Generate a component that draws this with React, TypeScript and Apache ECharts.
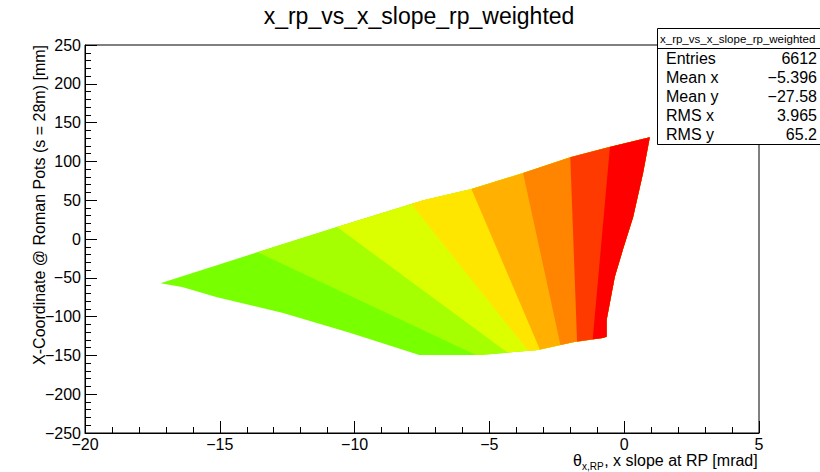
import React, { useEffect, useRef } from "react";
import * as echarts from "echarts";

// ---- data ----
// outline of the filled region (clockwise: tip -> top edge -> right edge -> bottom edge)
const outlineX = [-17.2, -14.5, -10.65, -7.45, -5.7, -3.75, -2.0, -0.55, 0.95, 0.7, 0.33, -0.05, -0.35, -0.65, -0.65, -0.8, -1.9, -3.2, -5.35, -7.6, -10.15, -12.65, -15.1, -16.4];
const outlineY = [-57, -27, 15.5, 50, 64, 85, 105.5, 118.5, 131, 85, 28, -14, -49, -104, -126, -127.5, -133, -143, -149.5, -149.5, -121, -95.5, -75, -62];

// boundaries between the colour bands (top end, bottom end)
const boundaryTopX = [-13.6, -10.65, -7.9, -5.65, -3.75, -2.0, -0.53];
const boundaryTopY = [-17, 15.5, 45, 63, 85, 105.7, 118.6];
const boundaryBottomX = [-5.5, -4.27, -3.53, -3.12, -2.38, -1.75, -1.16];
const boundaryBottomY = [-149.5, -148, -145.6, -143, -134, -130, -126];

const bandColors = ["#78ff00", "#a6ff00", "#dcff00", "#ffe600", "#ffb000", "#ff8400", "#ff3a00", "#ff0000"];

const statsTitle = "x_rp_vs_x_slope_rp_weighted";
const statLabels = ["Entries", "Mean x", "Mean y", "RMS x", "RMS y"];
const statValues = ["6612", "\u22125.396", "\u221227.58", "3.965", "65.2"];

const FONT = '"Liberation Sans", Arial, Helvetica, sans-serif';

type P = [number, number];

function clipRight(poly: P[], a: P, b: P): P[] {
  const dx = b[0] - a[0];
  const dy = b[1] - a[1];
  const side = (p: P) => dx * (p[1] - a[1]) - dy * (p[0] - a[0]);
  const out: P[] = [];
  const n = poly.length;
  for (let i = 0; i < n; i++) {
    const cur = poly[i];
    const prev = poly[(i + n - 1) % n];
    const sc = side(cur);
    const sp = side(prev);
    const inter = (): P => {
      const t = sp / (sp - sc);
      return [prev[0] + t * (cur[0] - prev[0]), prev[1] + t * (cur[1] - prev[1])];
    };
    if (sc >= 0) {
      if (sp < 0) out.push(inter());
      out.push(cur);
    } else if (sp >= 0) {
      out.push(inter());
    }
  }
  return out;
}

const outline: P[] = outlineX.map((x, i) => [x, outlineY[i]] as P);
const bandPolys: P[][] = [
  outline,
  ...boundaryTopX.map((_, i) =>
    clipRight(outline, [boundaryTopX[i], boundaryTopY[i]], [boundaryBottomX[i], boundaryBottomY[i]])
  ),
];

const minus = (v: number) => String(v).replace("-", "\u2212");

function measure(text: string, size: number) {
  const c = document.createElement("canvas").getContext("2d");
  if (!c) return text.length * size * 0.5;
  c.font = `${size}px ${FONT}`;
  return c.measureText(text).width;
}

export default function App() {
  const ref = useRef<HTMLDivElement>(null);
  useEffect(() => {
    document.body.style.margin = "0";
    const chart = echarts.init(ref.current!, null, { renderer: "svg" });

    const mainTxt = ", x slope at RP [mrad]";
    const subTxt = "x,RP";
    const mainW = measure(mainTxt, 16);
    const subW = measure(subTxt, 10);
    const thW = measure("\u03b8", 16);
    const mainX = 758 - mainW;
    const subX = mainX - subW - 0.5;
    const thX = subX - thW;

    const axisCommon = {
      type: "value" as const,
      axisLine: { show: true, onZero: false, lineStyle: { color: "#000", width: 1 } },
      axisTick: { show: true, inside: true, length: 12, lineStyle: { color: "#000" } },
      minorTick: { show: true, splitNumber: 5, length: 6, lineStyle: { color: "#000" } },
      splitLine: { show: false },
      axisLabel: { fontSize: 16, color: "#000", fontFamily: FONT, formatter: minus },
    };

    const option: any = {
      animation: false,
      backgroundColor: "#fff",
      grid: {
        left: 85, right: 61, top: 45, bottom: 39,
        show: true, borderColor: "#000", borderWidth: 1, backgroundColor: "transparent",
        containLabel: false, outerBoundsMode: "none",
      },
      xAxis: {
        ...axisCommon, min: -20, max: 5, interval: 5,
        axisLabel: { ...axisCommon.axisLabel, margin: 3 },
      },
      yAxis: {
        ...axisCommon, min: -250, max: 250, interval: 50,
        axisLabel: { ...axisCommon.axisLabel, margin: 4 },
      },
      series: [
        {
          type: "custom",
          coordinateSystem: "cartesian2d",
          data: bandPolys.map((p) => [p[0][0], p[0][1]]),
          renderItem: (params: any, api: any) => {
            const poly = bandPolys[params.dataIndex];
            const points = poly.map((p) => api.coord(p));
            return {
              type: "polygon",
              shape: { points },
              style: { fill: bandColors[params.dataIndex], stroke: null },
            };
          },
        },
      ],
      graphic: [
        {
          type: "text", x: 419, y: 16, z: 100,
          style: { text: "x_rp_vs_x_slope_rp_weighted", fontSize: 23, fontFamily: FONT, fill: "#000", align: "center", verticalAlign: "middle", textAlign: "center", textVerticalAlign: "middle" },
        },
        {
          type: "text", x: 39, y: 45, rotation: Math.PI / 2, z: 100,
          style: { text: "X-Coordinate @ Roman Pots (s = 28m) [mm]", fontSize: 16, fontFamily: FONT, fill: "#000", align: "right", verticalAlign: "middle", textAlign: "right", textVerticalAlign: "middle" },
        },
        {
          type: "text", x: thX, y: 460, z: 100,
          style: { text: "\u03b8", fontSize: 16, fontFamily: FONT, fill: "#000", align: "left", verticalAlign: "middle", textAlign: "left", textVerticalAlign: "middle" },
        },
        {
          type: "text", x: subX, y: 466, z: 100,
          style: { text: subTxt, fontSize: 10, fontFamily: FONT, fill: "#000", align: "left", verticalAlign: "middle", textAlign: "left", textVerticalAlign: "middle" },
        },
        {
          type: "text", x: mainX, y: 460, z: 100,
          style: { text: mainTxt, fontSize: 16, fontFamily: FONT, fill: "#000", align: "left", verticalAlign: "middle", textAlign: "left", textVerticalAlign: "middle" },
        },
        {
          type: "group", z: 110,
          children: [
            { type: "rect", shape: { x: 657.5, y: 28.5, width: 170, height: 116 }, style: { fill: "#fff", stroke: "#000", lineWidth: 1 }, z: 110 },
            { type: "line", shape: { x1: 657.5, y1: 48.5, x2: 822, y2: 48.5 }, style: { stroke: "#000", lineWidth: 1 }, z: 111 },
            {
              type: "text", x: 660, y: 38.5, z: 112,
              style: { text: statsTitle, fontSize: 11.5, fontFamily: FONT, fill: "#000", align: "left", verticalAlign: "middle", textAlign: "left", textVerticalAlign: "middle" },
            },
            ...statLabels.map((l, i) => ({
              type: "text", x: 666, y: 58 + i * 19.2, z: 112,
              style: { text: l, fontSize: 16, fontFamily: FONT, fill: "#000", align: "left", verticalAlign: "middle", textAlign: "left", textVerticalAlign: "middle" },
            })),
            ...statValues.map((v, i) => ({
              type: "text", x: 817, y: 58 + i * 19.2, z: 112,
              style: { text: v, fontSize: 16, fontFamily: FONT, fill: "#000", align: "right", verticalAlign: "middle", textAlign: "right", textVerticalAlign: "middle" },
            })),
          ],
        },
      ],
    };
    chart.setOption(option);
    return () => chart.dispose();
  }, []);
  return <div ref={ref} style={{ position: "fixed", left: 0, top: 0, width: 820, height: 472 }} />;
}
